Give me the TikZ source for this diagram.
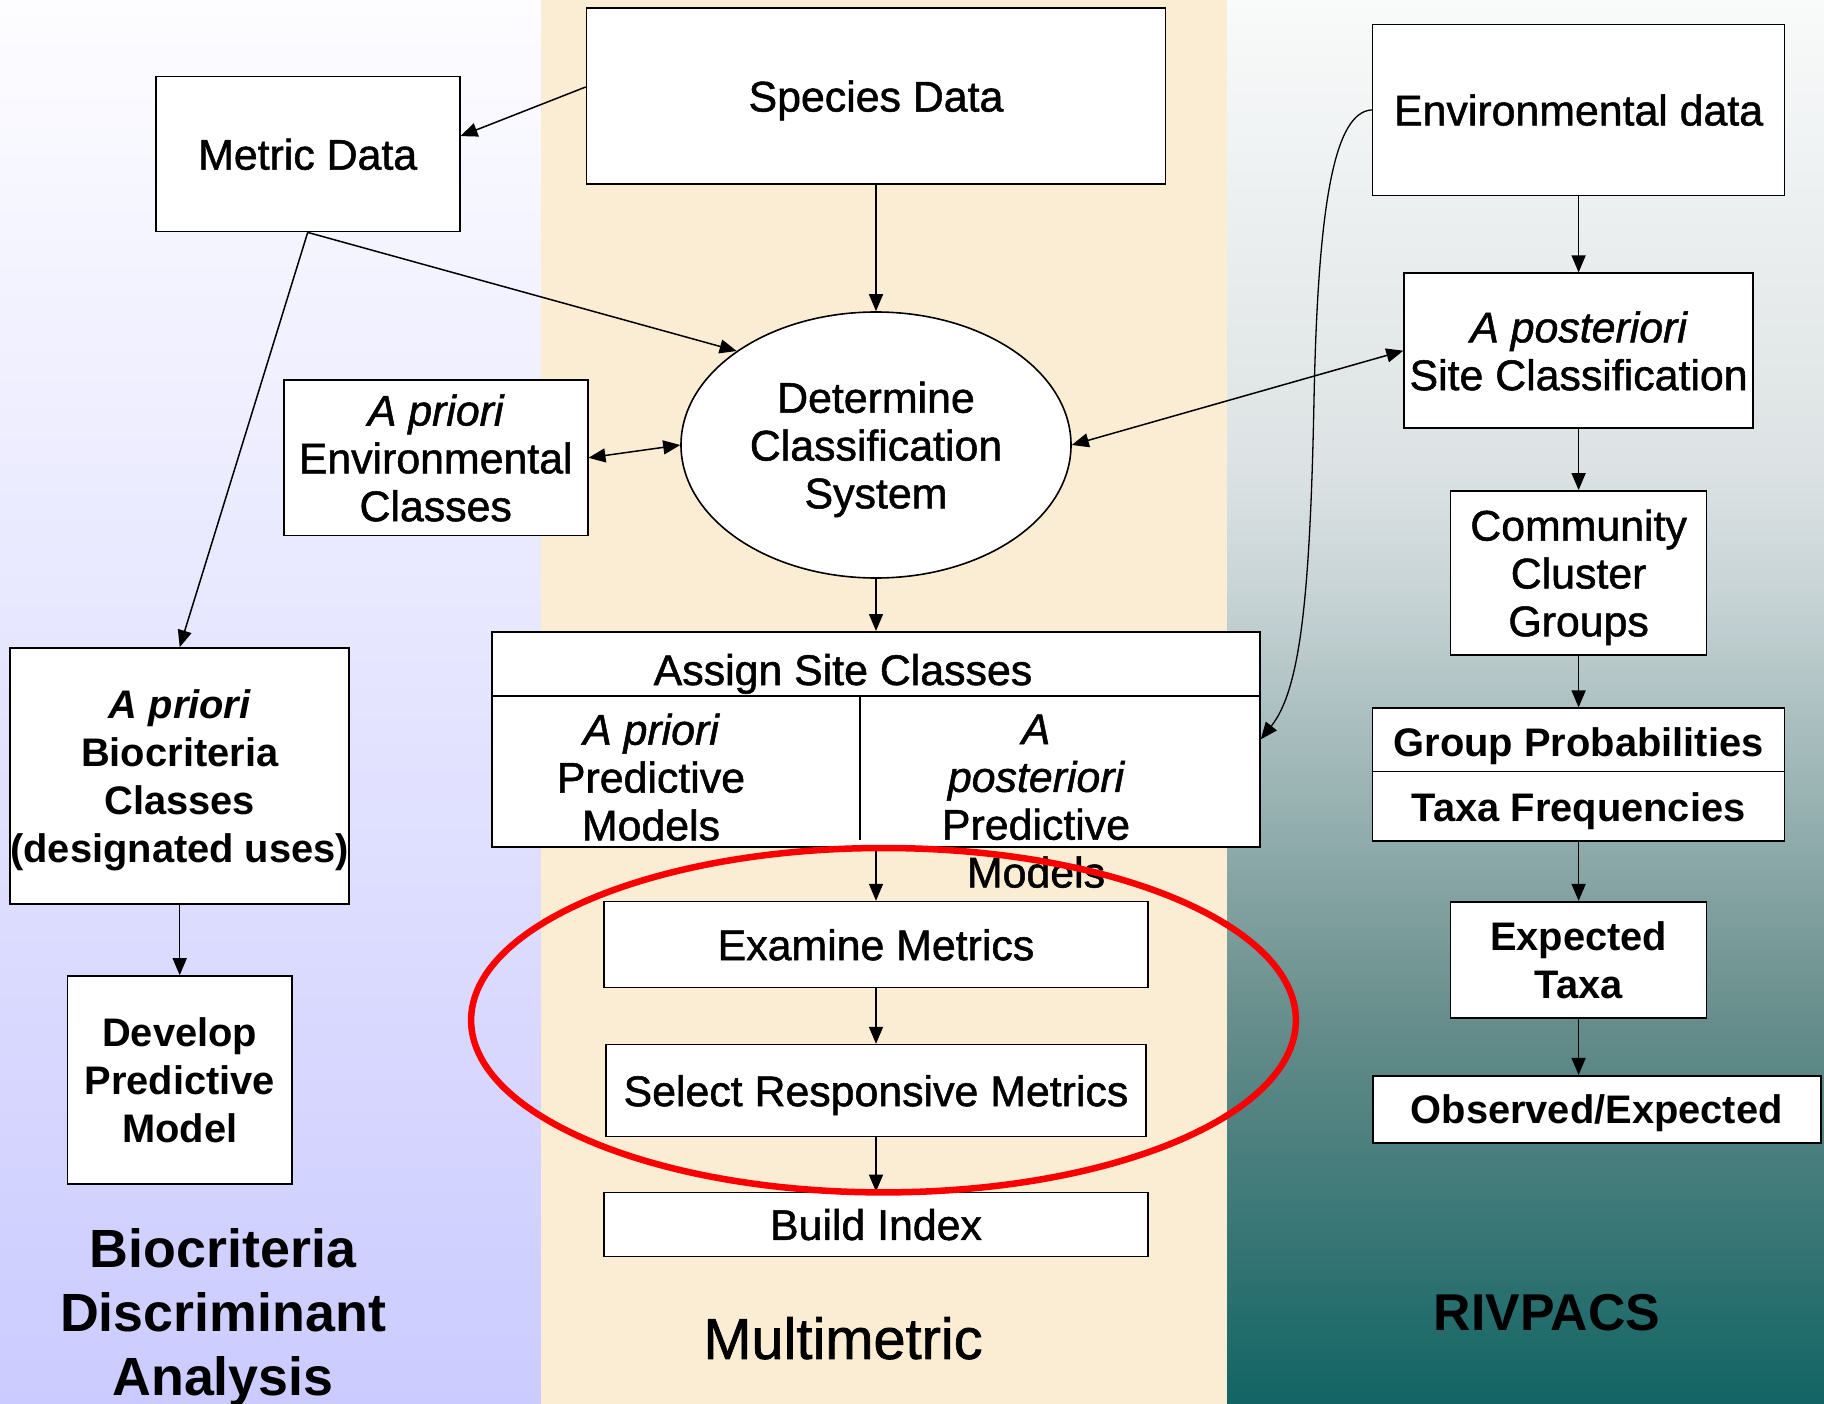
\documentclass[tikz,border=0pt]{standalone}
\usepackage{fontspec}
\setmainfont{Liberation Sans}
\newfontfamily\plainfont{Liberation Sans}
\newfontfamily\medfont{Liberation Sans}[FakeBold=1.2]
\usetikzlibrary{arrows.meta,shapes.geometric,calc}
\definecolor{lavtop}{RGB}{253,253,255}
\definecolor{lavbot}{RGB}{203,203,255}
\definecolor{tan}{RGB}{250,237,212}
\definecolor{rA}{RGB}{249,250,250}
\definecolor{rB}{RGB}{220,226,227}
\definecolor{rC}{RGB}{200,212,214}
\definecolor{rD}{RGB}{100,140,138}
\definecolor{rF}{RGB}{18,100,100}
\definecolor{hlred}{RGB}{250,0,0}
\tikzset{
  every node/.append style={text depth=0pt},
  box/.style={draw=black, line width=1.6bp, fill=white, inner sep=0pt, align=center},
  medtxt/.style={font=\medfont\fontsize{43}{48}\selectfont, align=center},
  bldtxt/.style={font=\plainfont\bfseries\fontsize{40}{48}\selectfont, align=center},
  arr/.style={line width=1.5bp, -{Triangle[length=17bp,width=14bp]}},
  darr/.style={line width=1.5bp, {Triangle[length=17bp,width=14bp]}-{Triangle[length=17bp,width=14bp]}},
  divline/.style={line width=1.6bp}
}
\begin{document}
\begin{tikzpicture}[x=1bp,y=-1bp]
\useasboundingbox (0,0) rectangle (1824,1404);
% backgrounds
\shade[top color=lavtop, bottom color=lavbot] (0,0) rectangle (541,1404);
\fill[tan] (541,0) rectangle (1227,1404);
\shade[top color=rA, bottom color=rB] (1227,0) rectangle (1824,471);
\shade[top color=rB, bottom color=rC] (1227,470) rectangle (1824,591);
\shade[top color=rC, bottom color=rD] (1227,590) rectangle (1824,1031);
\shade[top color=rD, bottom color=rF] (1227,1030) rectangle (1824,1404);

% nodes: middle column
\node[box, medtxt, minimum width=579bp, minimum height=176bp] (species) at (876,96) {Species Data};
\node[ellipse, draw=black, line width=1.6bp, fill=white, inner sep=0pt, minimum width=390bp, minimum height=266bp, medtxt] (ell) at (876,445) {Determine\\Classification\\System};
\node[box, minimum width=768bp, minimum height=215bp] (assign) at (876,739.3) {};
\draw[divline] (492,695.7) -- (1259.9,695.7);
\draw[divline] (859.7,695.7) -- (859.7,840);
\node[medtxt] (asgt) at (843,669.5) {Assign Site Classes};
\node[medtxt] (aprm) at (651,777) {{\itshape A priori}\\Predictive\\Models};
\node[medtxt] (apom) at (1036,801) {{\itshape A}\\{\itshape posteriori}\\Predictive\\Models};
\node[box, medtxt, minimum width=544bp, minimum height=86bp] (exam) at (876,944.6) {Examine Metrics};
\node[box, medtxt, minimum width=540bp, minimum height=92bp] (sel) at (876,1090.6) {Select Responsive Metrics};
\node[box, medtxt, minimum width=544bp, minimum height=64bp] (build) at (876,1224.4) {Build Index};

% left column
\node[box, medtxt, minimum width=304bp, minimum height=155bp] (metric) at (307.7,154.1) {Metric Data};
\node[box, medtxt, minimum width=304bp, minimum height=155bp] (envcl) at (435.7,457.8) {{\itshape A priori}\\Environmental\\Classes};
\node[box, bldtxt, minimum width=336bp, minimum height=256bp] (bio) at (179.7,776) {{\itshape A priori}\\Biocriteria\\Classes\\(designated uses)};
\node[box, bldtxt, minimum width=224.5bp, minimum height=208bp] (dev) at (179.7,1080) {Develop\\Predictive\\Model};

% right column
\node[box, medtxt, minimum width=412bp, minimum height=171bp] (env) at (1578.6,109.9) {Environmental data};
\node[box, medtxt, minimum width=349bp, minimum height=155bp] (site) at (1578.6,350.7) {{\itshape A posteriori}\\Site Classification};
\node[box, medtxt, minimum width=256bp, minimum height=164bp] (comm) at (1578.6,572.9) {Community\\Cluster\\Groups};
\node[box, minimum width=412bp, minimum height=133bp] (grp) at (1578.6,774.7) {};
\draw[divline] (1372.7,771.3) -- (1784.5,771.3);
\node[bldtxt] (grpt) at (1578.6,742) {Group Probabilities};
\node[bldtxt] (taxt) at (1578.6,807) {Taxa Frequencies};
\node[box, bldtxt, minimum width=256bp, minimum height=116bp] (exp) at (1578.6,959.7) {Expected\\Taxa};
\node[box, bldtxt, minimum width=448bp, minimum height=67.5bp] (obs) at (1596.7,1109.5) {Observed/Expected};

% titles
\node[font=\plainfont\bfseries\fontsize{54}{64}\selectfont, align=center] (t1) at (223,1312) {Biocriteria\\Discriminant\\Analysis};
\node[font=\medfont\fontsize{58}{63}\selectfont] (t2) at (843,1338) {Multimetric};
\node[font=\plainfont\bfseries\fontsize{52}{63}\selectfont] (t3) at (1547,1312) {RIVPACS};

% connectors
\draw[arr] ([yshift=9bp]species.west) -- ([yshift=18bp]metric.east);
\draw[arr] (species.south) -- (ell.north);
\draw[arr] (metric.south) -- (ell.146);
\draw[arr] (metric.south) -- (bio.north);
\draw[darr] (envcl.east) -- (ell.west);
\draw[darr] (ell.east) -- (site.west);
\draw[arr] (env.south) -- (site.north);
\draw[arr] (site.south) -- (comm.north);
\draw[arr] (comm.south) -- (grp.north);
\draw[arr] (grp.south) -- (exp.north);
\draw[arr] (exp.south) -- (exp.south |- obs.north);
\draw[arr] (ell.south) -- (assign.north);
\draw[arr] (assign.south) -- (exam.north);
\draw[arr] (exam.south) -- (sel.north);
\draw[arr] (sel.south) -- (build.north);
\draw[arr] (bio.south) -- (dev.north);
\draw[arr, line width=1.3bp] (env.west) .. controls (1335,112) and (1318,200) .. (1314,400) .. controls (1310,600) and (1300,690) .. (assign.east);

% red highlight ellipse
\node[ellipse, draw=hlred, line width=6.5bp, inner sep=0pt, minimum width=824.8bp, minimum height=344.4bp] (hl) at (883.5,1020.2) {};
\end{tikzpicture}
\end{document}
